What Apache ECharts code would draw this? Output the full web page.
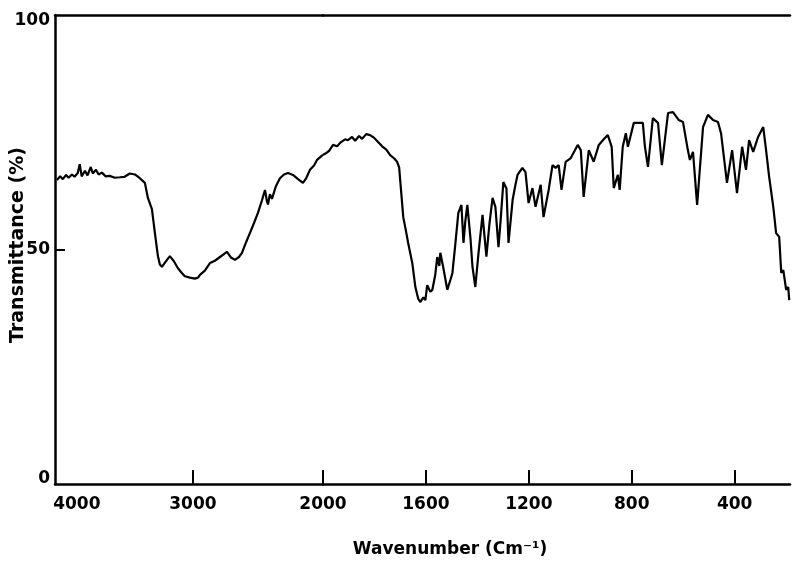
<!DOCTYPE html>
<html>
<head>
<meta charset="utf-8">
<script src="https://cdn.jsdelivr.net/npm/echarts@6/dist/echarts.min.js"></script>
<style>
  html, body { margin: 0; padding: 0; background: #fff; }
  #chart { width: 792px; height: 561px; }
</style>
</head>
<body>
<div id="chart"></div>
<script>
"use strict";

// high wavenumber part (4000-2000, compressed scale)
var wnHigh = [4045, 4020, 4000, 3975, 3955, 3930, 3910, 3885, 3870, 3855, 3830, 3810, 3785, 3770, 3745,
  3725, 3700, 3670, 3640, 3600, 3560, 3525, 3485, 3446, 3408, 3369, 3346, 3315, 3292, 3269, 3254,
  3238, 3215, 3177, 3146, 3115, 3085, 3062, 3023, 2985, 2960, 2946, 2908, 2869, 2831, 2792, 2738,
  2708, 2677, 2646, 2623, 2592, 2562, 2531, 2500, 2469, 2446, 2431, 2423, 2408, 2392, 2362, 2331,
  2300, 2269, 2231, 2192, 2154, 2131, 2100, 2069, 2046, 2008, 2000];
var tHigh = [64.8, 65.6, 65.0, 65.9, 65.3, 66.0, 65.5, 66.3, 68.2, 65.6, 66.8, 65.8, 67.6, 66.2, 67.0,
  66.0, 66.4, 65.6, 65.7, 65.3, 65.4, 65.5, 66.2, 66.0, 65.2, 64.2, 61.0, 58.6, 53.5, 48.6, 46.8,
  46.3, 47.2, 48.6, 47.5, 46.0, 45.0, 44.3, 44.0, 43.8, 44.0, 44.6, 45.5, 47.1, 47.6, 48.4, 49.5,
  48.3, 47.8, 48.4, 49.3, 51.5, 53.5, 55.6, 57.8, 60.5, 62.7, 60.3, 59.6, 61.8, 60.8, 63.5, 65.2,
  66.0, 66.3, 65.9, 65.0, 64.2, 65.1, 67.0, 67.9, 69.1, 70.0, 70.2];

// low wavenumber part (2000-185, expanded scale)
var wnLow = [2000, 1992, 1977, 1961, 1945, 1930, 1914, 1903, 1887, 1875, 1860, 1848, 1832, 1817, 1801,
  1786, 1770, 1754, 1739, 1723, 1712, 1704, 1700, 1688, 1676, 1669, 1653, 1641, 1630, 1622, 1610,
  1602, 1595, 1583, 1575, 1564, 1556, 1548, 1544, 1532, 1517, 1505, 1497, 1486, 1474, 1462, 1454,
  1447, 1439, 1427, 1419, 1408, 1396, 1380, 1365, 1353, 1341, 1330, 1318, 1310, 1299, 1287, 1279,
  1263, 1252, 1244, 1225, 1213, 1201, 1186, 1174, 1154, 1143, 1123, 1108, 1096, 1084, 1073, 1057,
  1037, 1010, 998, 987, 967, 948, 928, 909, 893, 878, 870, 854, 847, 835, 823, 815, 792, 757, 749,
  737, 718, 698, 683, 659, 640, 617, 601, 582, 574, 562, 546, 523, 504, 484, 465, 453, 430, 410,
  391, 371, 356, 344, 328, 309, 289, 278, 266, 250, 239, 227, 219, 211, 200, 192, 188];
var tLow = [70.2, 70.4, 71.0, 72.3, 72.0, 72.9, 73.5, 73.3, 74.0, 73.2, 74.2, 73.6, 74.6, 74.4, 73.8,
  72.9, 72.0, 71.3, 70.1, 69.4, 68.7, 67.5, 64.8, 56.9, 53.5, 51.4, 47.1, 42.0, 39.5, 38.8, 39.8,
  39.2, 42.4, 41.0, 41.4, 44.5, 48.4, 46.5, 49.3, 46.0, 41.4, 43.5, 45.0, 51.0, 57.8, 59.5, 51.4,
  56.0, 59.5, 52.5, 46.3, 42.0, 49.0, 57.4, 48.5, 55.5, 61.0, 59.1, 50.5, 56.0, 64.4, 63.0, 51.4,
  60.6, 63.8, 65.9, 67.4, 66.5, 59.9, 63.1, 59.1, 63.8, 56.9, 62.7, 68.0, 67.4, 68.0, 62.7, 68.7,
  69.5, 72.3, 71.2, 61.2, 71.2, 68.7, 72.3, 73.5, 74.4, 71.9, 63.1, 65.9, 62.7, 71.9, 74.8, 71.9,
  77.0, 77.0, 72.0, 67.6, 78.0, 77.0, 68.0, 79.1, 79.3, 77.6, 77.2, 71.2, 69.1, 70.8, 59.5, 76.1,
  78.7, 77.6, 77.2, 74.8, 64.2, 71.2, 62.0, 71.9, 67.0, 73.3, 70.8, 74.0, 76.1, 71.2, 65.5, 59.1,
  53.5, 52.7, 45.0, 45.6, 41.4, 42.0, 39.2];

var labelsHigh = [4000, 3000, 2000];
var ticksHigh = [3000, 2000];
var labelsLow = [1600, 1200, 800, 400];
var yLabels = [0, 50, 100];

function pairs(xs, ys) {
  return xs.map(function (x, i) { return [x, ys[i]]; });
}

var font = '"DejaVu Sans", sans-serif';
var axisLine = { show: true, lineStyle: { color: '#000', width: 2.5 } };
var labelStyle = { color: '#000', fontFamily: font, fontWeight: 'bold', fontSize: 17 };

var chart = echarts.init(document.getElementById('chart'), null, { renderer: 'canvas' });

var option = {
  backgroundColor: '#ffffff',
  animation: false,
  grid: [
    { left: 55, top: 15, width: 268, bottom: 77 },
    { left: 323, top: 15, right: 2, bottom: 77 }
  ],
  xAxis: [
    {
      type: 'value', gridIndex: 0, inverse: true, min: 2000, max: 4060,
      axisLine: axisLine, splitLine: { show: false },
      axisTick: { inside: true, length: 14, customValues: ticksHigh, lineStyle: { color: '#000', width: 2 } },
      axisLabel: Object.assign({}, labelStyle, {
        margin: 12, customValues: labelsHigh,
        formatter: function (v) { return v === 4000 ? '{s|4000}' : String(v); },
        rich: { s: Object.assign({}, labelStyle, { padding: [0, 0, 0, 28] }) }
      })
    },
    {
      type: 'value', gridIndex: 1, inverse: true, min: 185, max: 2000,
      axisLine: axisLine, splitLine: { show: false },
      axisTick: { inside: true, length: 14, customValues: labelsLow, lineStyle: { color: '#000', width: 2 } },
      axisLabel: Object.assign({}, labelStyle, {
        margin: 12, customValues: labelsLow,
        formatter: function (v) { return String(v); }
      })
    },
    {
      type: 'value', gridIndex: 0, position: 'top', inverse: true, min: 2000, max: 4060,
      axisLine: axisLine, axisTick: { show: false }, axisLabel: { show: false }, splitLine: { show: false }
    },
    {
      type: 'value', gridIndex: 1, position: 'top', inverse: true, min: 185, max: 2000,
      axisLine: axisLine, axisTick: { show: false }, axisLabel: { show: false }, splitLine: { show: false }
    }
  ],
  yAxis: [
    {
      type: 'value', gridIndex: 0, min: 0, max: 100,
      axisLine: axisLine, splitLine: { show: false },
      axisTick: { show: true, inside: true, length: 10, customValues: [50], lineStyle: { color: '#000', width: 2 } },
      axisLabel: Object.assign({}, labelStyle, {
        margin: 5, customValues: yLabels,
        formatter: function (v) {
          if (v === 100) return '{top|100}';
          if (v === 0) return '{bot|0}';
          return String(v);
        },
        rich: {
          top: Object.assign({}, labelStyle, { padding: [12, 0, 0, 0] }),
          bot: Object.assign({}, labelStyle, { padding: [0, 0, 10, 0] })
        }
      })
    },
    {
      type: 'value', gridIndex: 1, min: 0, max: 100, show: false
    }
  ],
  series: [
    {
      type: 'line', xAxisIndex: 0, yAxisIndex: 0, data: pairs(wnHigh, tHigh),
      showSymbol: false, lineStyle: { color: '#000', width: 2.2 }
    },
    {
      type: 'line', xAxisIndex: 1, yAxisIndex: 1, data: pairs(wnLow, tLow),
      showSymbol: false, lineStyle: { color: '#000', width: 2.2 }
    }
  ],
  graphic: [
    {
      type: 'text', x: 18, y: 245, rotation: Math.PI / 2,
      style: { text: 'Transmittance (%)', fill: '#000', font: 'bold 19px "DejaVu Sans", sans-serif',
        align: 'center', verticalAlign: 'middle' }
    },
    {
      type: 'text', x: 450, y: 550,
      style: { text: 'Wavenumber (Cm\u207B\u00B9)', fill: '#000', font: 'bold 17px "DejaVu Sans", sans-serif',
        align: 'center', verticalAlign: 'middle' }
    }
  ]
};

chart.setOption(option);
</script>
</body>
</html>
